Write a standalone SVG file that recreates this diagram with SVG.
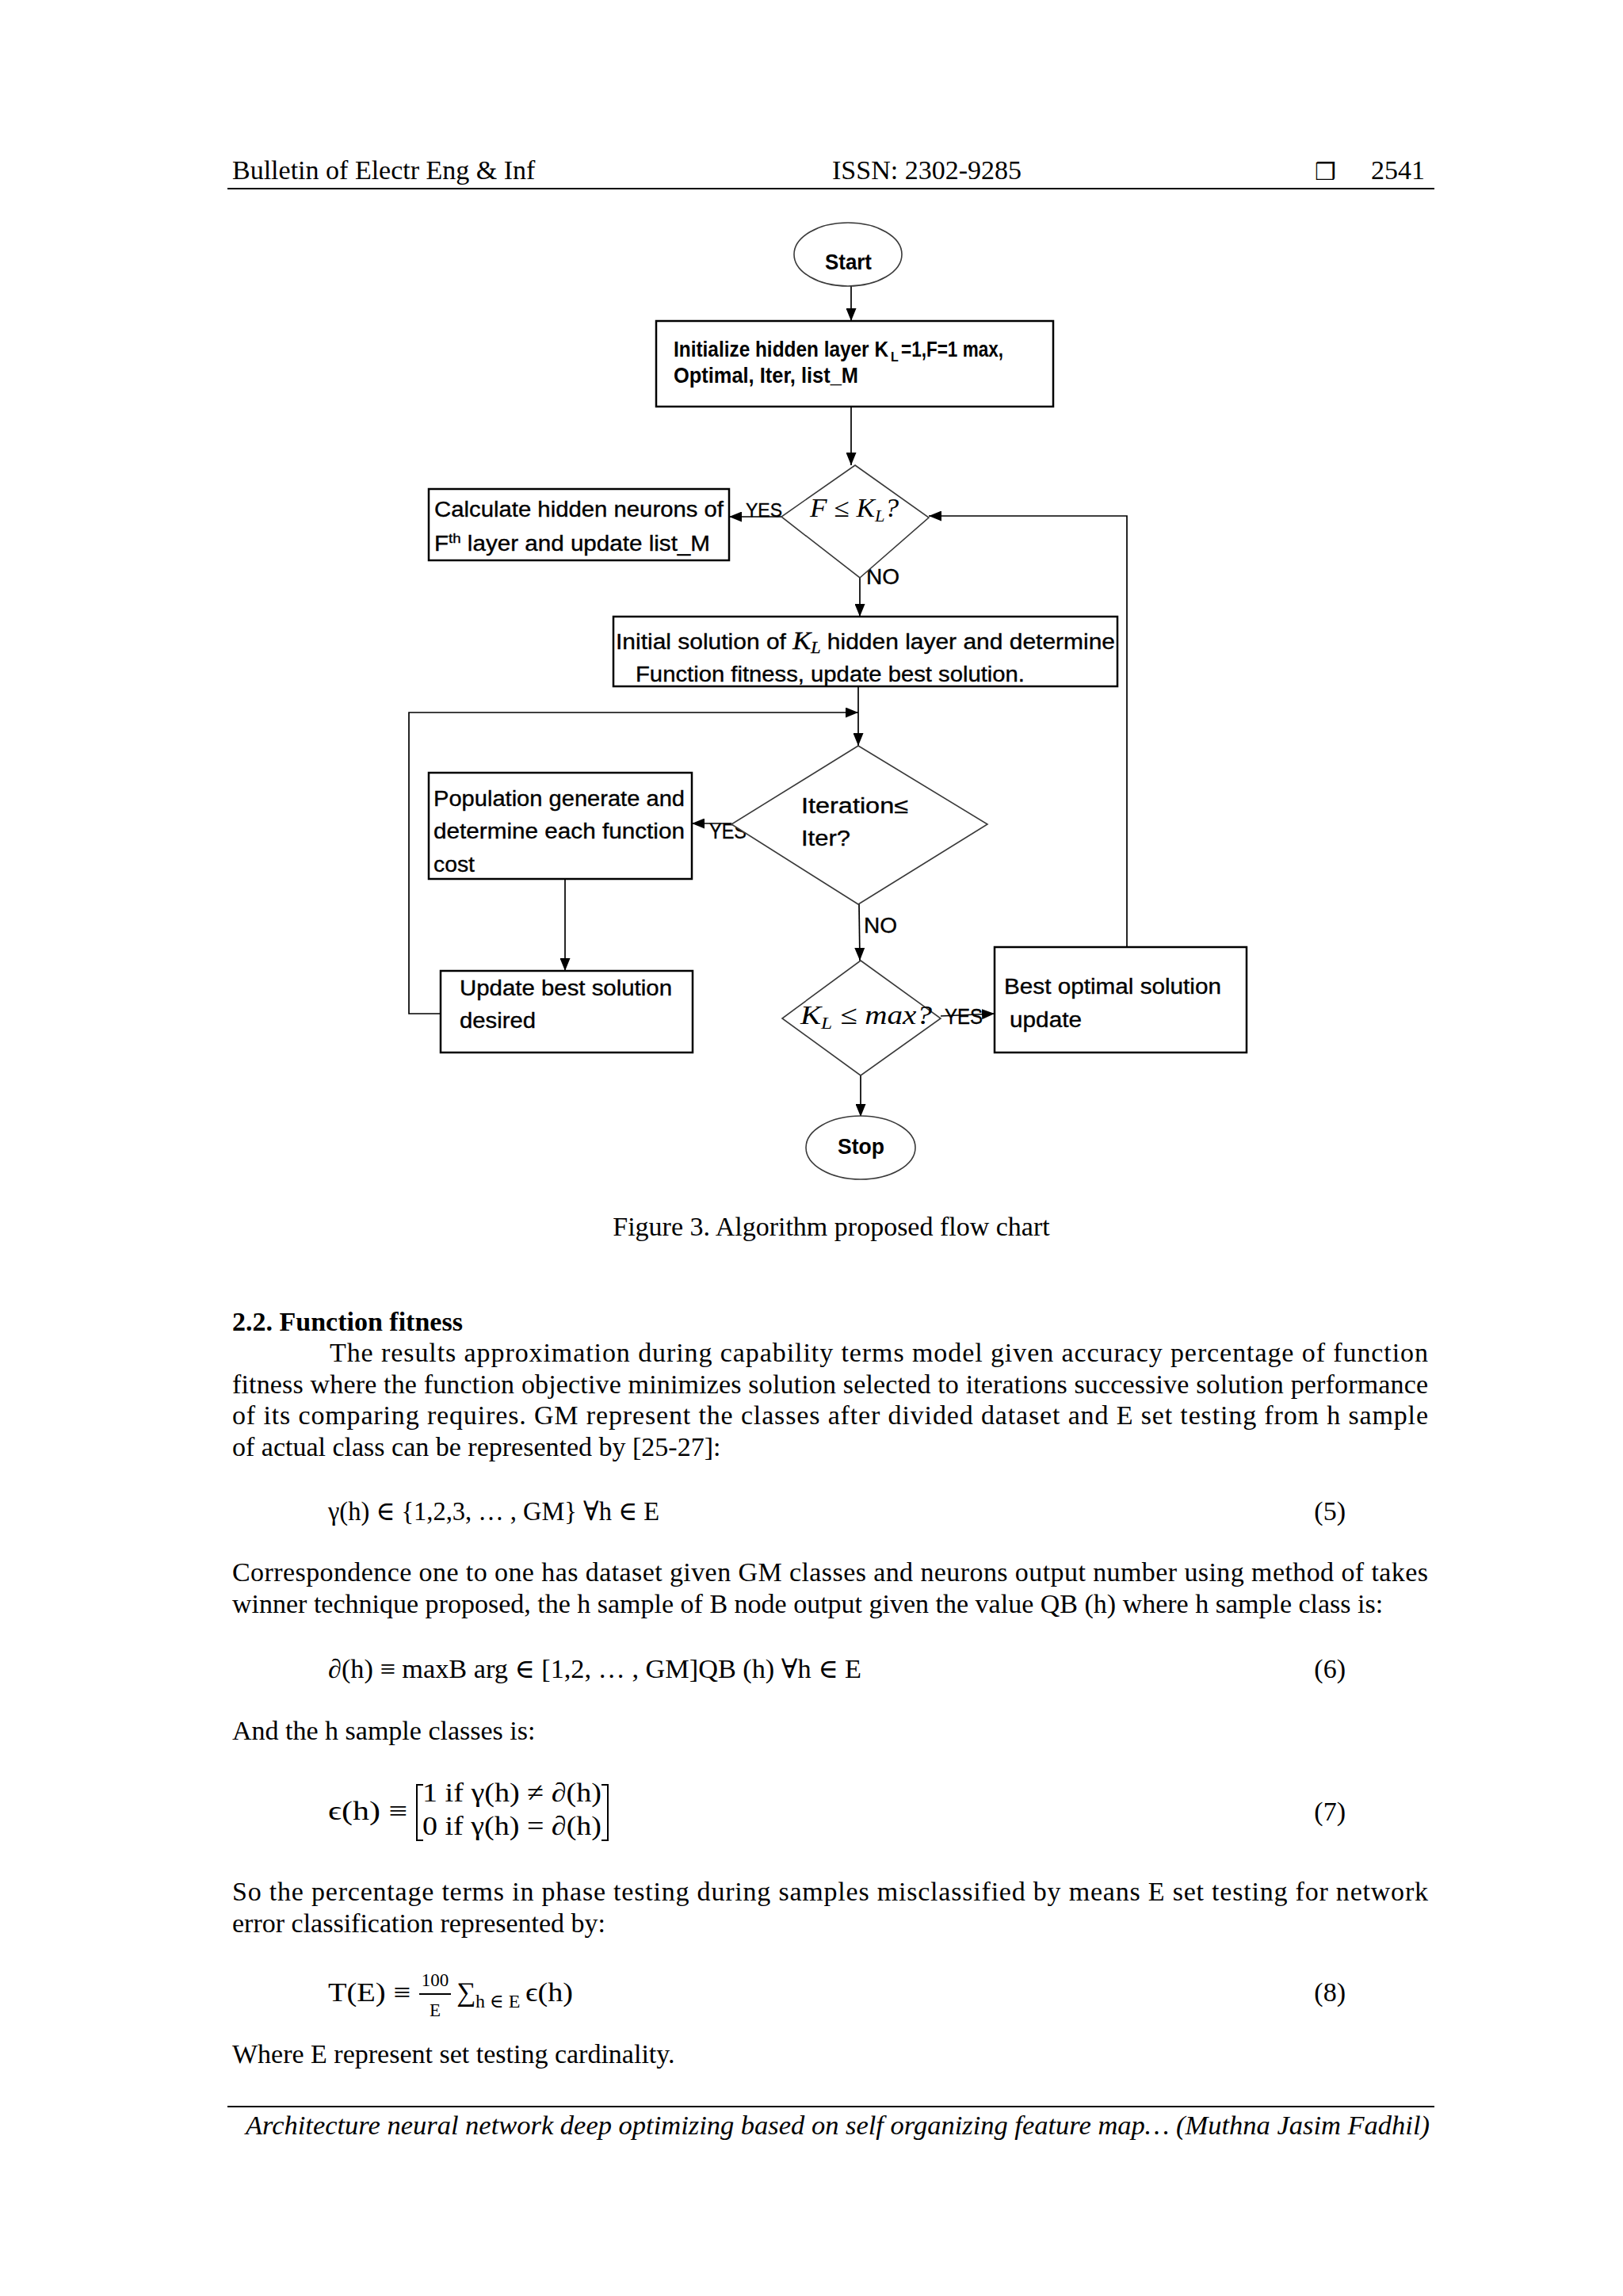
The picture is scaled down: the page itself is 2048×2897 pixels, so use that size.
<svg xmlns="http://www.w3.org/2000/svg" width="2048" height="2897" viewBox="0 0 2048 2897">
<style>
.pg{font-family:"Liberation Serif","Times New Roman",serif;font-size:34px;fill:#000}
.b{font-weight:bold}
.it{font-style:italic}
.eq{font-family:"Liberation Serif","DejaVu Serif",serif;font-size:34px;fill:#000}
.fc{font-family:"Liberation Sans Narrow","Liberation Sans",Arial,sans-serif;font-size:27px;fill:#000;stroke:#000;stroke-width:0.35}
.fb{font-weight:bold;stroke-width:0}
.mi{font-family:"Liberation Serif","Times New Roman",serif;font-style:italic;fill:#000}
.box{fill:#fff;stroke:#000;stroke-width:2.5}
.dia{fill:#fff;stroke:#3a3a3a;stroke-width:1.6}
.term{fill:#fff;stroke:#3a3a3a;stroke-width:1.6}
.con{fill:none;stroke:#000;stroke-width:1.7}
</style>
<defs>
<marker id="ah" viewBox="0 0 16 13" refX="16" refY="6.5" markerWidth="16" markerHeight="13" markerUnits="userSpaceOnUse" orient="auto">
<path d="M0,0 L16,6.5 L0,13 z" fill="#000"/>
</marker>
</defs>
<rect width="2048" height="2897" fill="#fff"/>

<g id="header">
<text class="pg" x="293" y="226">Bulletin of Electr Eng &amp; Inf</text>
<text class="pg" x="1050" y="226">ISSN: 2302-9285</text>
<text x="1659" y="227" style="font-family:'DejaVu Sans',sans-serif;font-size:30px">❒</text>
<text class="pg" x="1730" y="226">2541</text>
<line x1="287" y1="238" x2="1810" y2="238" stroke="#000" stroke-width="2"/>
</g>

<g id="connectors">
<line class="con" x1="1074" y1="361" x2="1074" y2="405" marker-end="url(#ah)"/>
<line class="con" x1="1074" y1="513" x2="1074" y2="587" marker-end="url(#ah)"/>
<line class="con" x1="986" y1="652" x2="920" y2="652" marker-end="url(#ah)"/>
<polyline class="con" points="1422,1195 1422,651 1172,651" marker-end="url(#ah)"/>
<line class="con" x1="1085" y1="729" x2="1085" y2="778" marker-end="url(#ah)"/>
<line class="con" x1="1083" y1="866" x2="1083" y2="941" marker-end="url(#ah)"/>
<polyline class="con" points="556,1279 516,1279 516,899 1083,899" marker-end="url(#ah)"/>
<line class="con" x1="923" y1="1039" x2="873" y2="1039" marker-end="url(#ah)"/>
<line class="con" x1="713" y1="1109" x2="713" y2="1225" marker-end="url(#ah)"/>
<line class="con" x1="1084" y1="1141" x2="1085" y2="1212" marker-end="url(#ah)"/>
<line class="con" x1="1187" y1="1282" x2="1255" y2="1279" marker-end="url(#ah)"/>
<line class="con" x1="1086" y1="1357" x2="1086" y2="1409" marker-end="url(#ah)"/>
<text class="fc" x="941" y="652" textLength="46" lengthAdjust="spacingAndGlyphs" style="font-size:24px">YES</text>
<text class="fc" x="1093" y="737" textLength="42" lengthAdjust="spacingAndGlyphs">NO</text>
<text class="fc" x="895" y="1058" textLength="47" lengthAdjust="spacingAndGlyphs">YES</text>
<text class="fc" x="1090" y="1177" textLength="42" lengthAdjust="spacingAndGlyphs">NO</text>
<text class="fc" x="1192" y="1292" textLength="48" lengthAdjust="spacingAndGlyphs">YES</text>
</g>

<g id="start">
<ellipse class="term" cx="1070" cy="321" rx="68" ry="40"/>
<text class="fc fb" x="1041" y="340" textLength="59" lengthAdjust="spacingAndGlyphs" style="font-size:28px">Start</text>
</g>

<g id="init">
<rect class="box" x="828" y="405" width="501" height="108"/>
<text class="fc fb" x="850" y="450" textLength="271" lengthAdjust="spacingAndGlyphs">Initialize hidden layer K</text>
<text class="fc fb" x="1124" y="456" style="font-size:16px">L</text>
<text class="fc fb" x="1137" y="450" textLength="129" lengthAdjust="spacingAndGlyphs">=1,F=1 max,</text>
<text class="fc fb" x="850" y="483" textLength="233" lengthAdjust="spacingAndGlyphs">Optimal, Iter, list_M</text>
</g>

<g id="decision1">
<polygon class="dia" points="1079,587 1172,653 1085,729 986,652"/>
<text class="mi" x="1022" y="652" textLength="112" lengthAdjust="spacingAndGlyphs" style="font-size:33px">F ≤ K<tspan dy="6" style="font-size:21px">L</tspan><tspan dy="-6">?</tspan></text>
</g>

<g id="calc">
<rect class="box" x="541" y="617" width="379" height="90"/>
<text class="fc" x="548" y="652" textLength="365" lengthAdjust="spacingAndGlyphs">Calculate hidden neurons of</text>
<text class="fc" x="548" y="695" textLength="348" lengthAdjust="spacingAndGlyphs">F<tspan dy="-10" style="font-size:17px">th</tspan><tspan dy="10"> layer and update list_M</tspan></text>
</g>

<g id="initsol">
<rect class="box" x="774" y="778" width="636" height="88"/>
<text class="fc" x="777" y="819" textLength="630" lengthAdjust="spacingAndGlyphs">Initial solution of <tspan class="mi" style="font-size:31px">K</tspan><tspan class="mi" dy="5" style="font-size:20px">L</tspan><tspan dy="-5"> hidden layer and determine</tspan></text>
<text class="fc" x="802" y="860" textLength="491" lengthAdjust="spacingAndGlyphs">Function fitness, update best solution.</text>
</g>

<g id="decision2">
<polygon class="dia" points="1083,941 1246,1040 1083,1141 923,1040"/>
<text class="fc" x="1011" y="1026" textLength="135" lengthAdjust="spacingAndGlyphs">Iteration≤</text>
<text class="fc" x="1011" y="1067" textLength="62" lengthAdjust="spacingAndGlyphs">Iter?</text>
</g>

<g id="population">
<rect class="box" x="541" y="975" width="332" height="134"/>
<text class="fc" x="547" y="1017" textLength="317" lengthAdjust="spacingAndGlyphs">Population generate and</text>
<text class="fc" x="547" y="1058" textLength="317" lengthAdjust="spacingAndGlyphs">determine each function</text>
<text class="fc" x="547" y="1100" textLength="52" lengthAdjust="spacingAndGlyphs">cost</text>
</g>

<g id="update">
<rect class="box" x="556" y="1225" width="318" height="103"/>
<text class="fc" x="580" y="1256" textLength="268" lengthAdjust="spacingAndGlyphs">Update best solution</text>
<text class="fc" x="580" y="1297" textLength="96" lengthAdjust="spacingAndGlyphs">desired</text>
</g>

<g id="decision3">
<polygon class="dia" points="1086,1212 1187,1285 1086,1357 987,1285"/>
<text class="mi" x="1010" y="1292" textLength="166" lengthAdjust="spacingAndGlyphs" style="font-size:34px">K<tspan dy="6" style="font-size:22px">L</tspan><tspan dy="-6"> ≤ max?</tspan></text>
</g>

<g id="bestopt">
<rect class="box" x="1255" y="1195" width="318" height="133"/>
<text class="fc" x="1267" y="1254" textLength="274" lengthAdjust="spacingAndGlyphs">Best optimal solution</text>
<text class="fc" x="1274" y="1296" textLength="91" lengthAdjust="spacingAndGlyphs">update</text>
</g>

<g id="stop">
<ellipse class="term" cx="1086" cy="1448" rx="69" ry="40"/>
<text class="fc fb" x="1057" y="1456" textLength="59" lengthAdjust="spacingAndGlyphs" style="font-size:28px">Stop</text>
</g>

<g id="body">
<text class="pg" x="1049" y="1559" text-anchor="middle">Figure 3. Algorithm proposed flow chart</text>
<text class="pg b" x="293" y="1679">2.2. Function fitness</text>
<text class="pg" x="416" y="1718" textLength="1386" lengthAdjust="spacing">The results approximation during capability terms model given accuracy percentage of function</text>
<text class="pg" x="293" y="1758" textLength="1509" lengthAdjust="spacing">fitness where the function objective minimizes solution selected to iterations successive solution performance</text>
<text class="pg" x="293" y="1797" textLength="1509" lengthAdjust="spacing">of its comparing requires. GM represent the classes after divided dataset and E set testing from h sample</text>
<text class="pg" x="293" y="1837">of actual class can be represented by [25-27]:</text>

<text class="eq" x="414" y="1918" textLength="418" lengthAdjust="spacingAndGlyphs">γ(h) ∈ {1,2,3, … , GM} ∀h ∈ E</text>
<text class="pg" x="1698" y="1918" text-anchor="end">(5)</text>

<text class="pg" x="293" y="1995" textLength="1509" lengthAdjust="spacing">Correspondence one to one has dataset given GM classes and neurons output number using method of takes</text>
<text class="pg" x="293" y="2035">winner technique proposed, the h sample of B node output given the value QB (h) where h sample class is:</text>

<text class="eq" x="414" y="2117" textLength="673" lengthAdjust="spacingAndGlyphs">∂(h) ≡ maxB arg ∈ [1,2, … , GM]QB (h) ∀h ∈ E</text>
<text class="pg" x="1698" y="2117" text-anchor="end">(6)</text>

<text class="pg" x="293" y="2195">And the h sample classes is:</text>

<text class="eq" x="414" y="2296" textLength="100" lengthAdjust="spacingAndGlyphs">ϵ(h) ≡</text>
<text class="eq" x="533" y="2273" textLength="226" lengthAdjust="spacingAndGlyphs">1 if γ(h) ≠ ∂(h)</text>
<text class="eq" x="533" y="2315" textLength="226" lengthAdjust="spacingAndGlyphs">0 if γ(h) = ∂(h)</text>
<path d="M534,2252 L526,2252 L526,2322 L534,2322" fill="none" stroke="#000" stroke-width="2"/>
<path d="M759,2252 L767,2252 L767,2322 L759,2322" fill="none" stroke="#000" stroke-width="2"/>
<text class="pg" x="1698" y="2297" text-anchor="end">(7)</text>

<text class="pg" x="293" y="2398" textLength="1509" lengthAdjust="spacing">So the percentage terms in phase testing during samples misclassified by means E set testing for network</text>
<text class="pg" x="293" y="2438">error classification represented by:</text>

<text class="eq" x="414" y="2525" textLength="104" lengthAdjust="spacingAndGlyphs">T(E) ≡</text>
<text class="eq" x="549" y="2506" text-anchor="middle" style="font-size:23px">100</text>
<line x1="529" y1="2516" x2="569" y2="2516" stroke="#000" stroke-width="2"/>
<text class="eq" x="549" y="2544" text-anchor="middle" style="font-size:23px">E</text>
<text class="eq" x="576" y="2525" style="font-size:34px">∑</text>
<text class="eq" x="600" y="2533" style="font-size:24px">h ∈ E</text>
<text class="eq" x="663" y="2525" textLength="60" lengthAdjust="spacingAndGlyphs">ϵ(h)</text>
<text class="pg" x="1698" y="2525" text-anchor="end">(8)</text>

<text class="pg" x="293" y="2603">Where E represent set testing cardinality.</text>
</g>

<g id="footer">
<line x1="287" y1="2658" x2="1810" y2="2658" stroke="#000" stroke-width="2"/>
<text class="pg it" x="310" y="2693" textLength="1494" lengthAdjust="spacingAndGlyphs">Architecture neural network deep optimizing based on self organizing feature map… (Muthna Jasim Fadhil)</text>
</g>
</svg>
